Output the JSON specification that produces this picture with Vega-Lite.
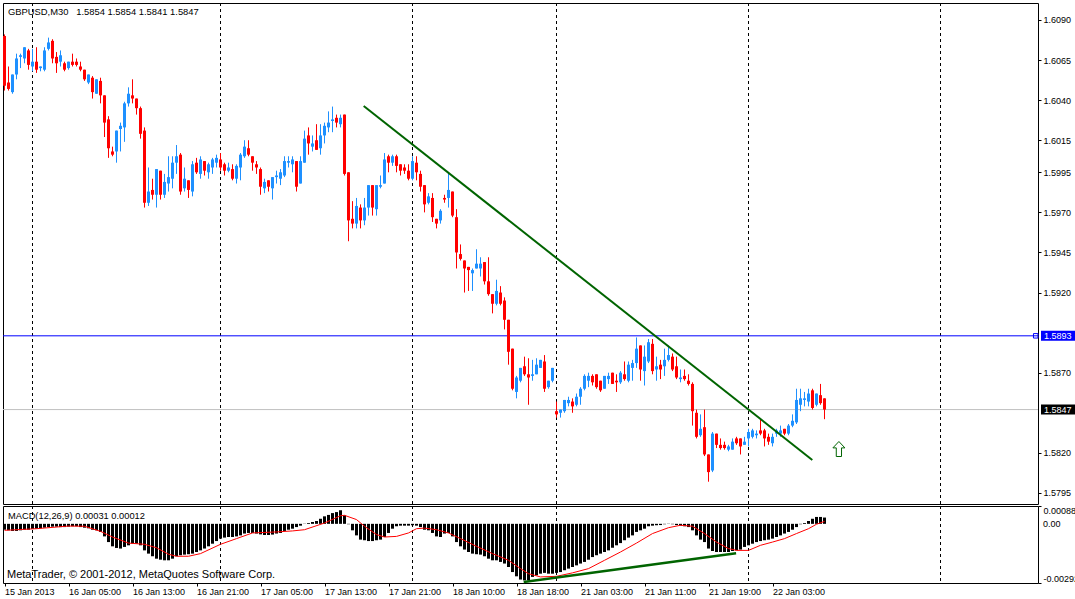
{
"$schema":"https://vega.github.io/schema/vega-lite/v6.json",
"background":"white",
"padding":{"left":2,"top":2,"right":0,"bottom":0},
"spacing":2,
"bounds":"flush",
"config":{"view":{"stroke":"#000000","strokeWidth":1},"scale":{"continuousPadding":0},"axis":{"labelFont":"Liberation Sans","labelFontSize":9,"labelColor":"#000000","tickColor":"#000000","tickSize":3,"domain":false,"grid":false,"labelOverlap":false}},
"datasets":{
"c":[
{"i":0,"o":1.6080,"h":1.6081,"l":1.6046,"c":1.6049,"m":-0.00029},
{"i":1,"o":1.6051,"h":1.6061,"l":1.6046,"c":1.6047,"m":-0.00032},
{"i":2,"o":1.6045,"h":1.6056,"l":1.6044,"c":1.6056,"m":-0.00035},
{"i":3,"o":1.6056,"h":1.6069,"l":1.6053,"c":1.6066,"m":-0.00035},
{"i":4,"o":1.6067,"h":1.6069,"l":1.6060,"c":1.6068,"m":-0.00032},
{"i":5,"o":1.6066,"h":1.6073,"l":1.6063,"c":1.6073,"m":-0.00029},
{"i":6,"o":1.6071,"h":1.6072,"l":1.6059,"c":1.6062,"m":-0.00029},
{"i":7,"o":1.6061,"h":1.6072,"l":1.6058,"c":1.6064,"m":-0.00025},
{"i":8,"o":1.6064,"h":1.6073,"l":1.6057,"c":1.6059,"m":-0.00024},
{"i":9,"o":1.6060,"h":1.6061,"l":1.6058,"c":1.6061,"m":-0.00022},
{"i":10,"o":1.6059,"h":1.6073,"l":1.6058,"c":1.6071,"m":-0.00019},
{"i":11,"o":1.6072,"h":1.6079,"l":1.6071,"c":1.6076,"m":-0.00016},
{"i":12,"o":1.6077,"h":1.6078,"l":1.6063,"c":1.6066,"m":-0.00014},
{"i":13,"o":1.6067,"h":1.6070,"l":1.6057,"c":1.6063,"m":-0.00014},
{"i":14,"o":1.6064,"h":1.6071,"l":1.6061,"c":1.6068,"m":-0.00016},
{"i":15,"o":1.6063,"h":1.6064,"l":1.6058,"c":1.6059,"m":-0.00016},
{"i":16,"o":1.6060,"h":1.6064,"l":1.6059,"c":1.6064,"m":-0.00014},
{"i":17,"o":1.6064,"h":1.6069,"l":1.6061,"c":1.6062,"m":-0.00012},
{"i":18,"o":1.6064,"h":1.6066,"l":1.6061,"c":1.6062,"m":-0.00012},
{"i":19,"o":1.6061,"h":1.6064,"l":1.6058,"c":1.6059,"m":-0.00016},
{"i":20,"o":1.6059,"h":1.6059,"l":1.6052,"c":1.6053,"m":-0.00019},
{"i":21,"o":1.6051,"h":1.6056,"l":1.6050,"c":1.6056,"m":-0.00022},
{"i":22,"o":1.6054,"h":1.6055,"l":1.6041,"c":1.6045,"m":-0.00029},
{"i":23,"o":1.6044,"h":1.6053,"l":1.6044,"c":1.6053,"m":-0.00032},
{"i":24,"o":1.6052,"h":1.6054,"l":1.6038,"c":1.6043,"m":-0.00040},
{"i":25,"o":1.6043,"h":1.6043,"l":1.6017,"c":1.6026,"m":-0.00062},
{"i":26,"o":1.6028,"h":1.6030,"l":1.6004,"c":1.6010,"m":-0.00090},
{"i":27,"o":1.6008,"h":1.6011,"l":1.6005,"c":1.6006,"m":-0.00111},
{"i":28,"o":1.6008,"h":1.6021,"l":1.6001,"c":1.6021,"m":-0.00119},
{"i":29,"o":1.6022,"h":1.6026,"l":1.6008,"c":1.6024,"m":-0.00122},
{"i":30,"o":1.6023,"h":1.6039,"l":1.6014,"c":1.6038,"m":-0.00114},
{"i":31,"o":1.6038,"h":1.6048,"l":1.6036,"c":1.6044,"m":-0.00106},
{"i":32,"o":1.6043,"h":1.6053,"l":1.6038,"c":1.6041,"m":-0.00098},
{"i":33,"o":1.6041,"h":1.6041,"l":1.6031,"c":1.6035,"m":-0.00098},
{"i":34,"o":1.6035,"h":1.6036,"l":1.6016,"c":1.6019,"m":-0.00106},
{"i":35,"o":1.6021,"h":1.6023,"l":1.5973,"c":1.5976,"m":-0.00131},
{"i":36,"o":1.5976,"h":1.5998,"l":1.5974,"c":1.5983,"m":-0.00147},
{"i":37,"o":1.5984,"h":1.5991,"l":1.5978,"c":1.5981,"m":-0.00160},
{"i":38,"o":1.5981,"h":1.5997,"l":1.5973,"c":1.5997,"m":-0.00172},
{"i":39,"o":1.5996,"h":1.5996,"l":1.5978,"c":1.5981,"m":-0.00177},
{"i":40,"o":1.5981,"h":1.5994,"l":1.5979,"c":1.5989,"m":-0.00180},
{"i":41,"o":1.5988,"h":1.6005,"l":1.5983,"c":1.5992,"m":-0.00180},
{"i":42,"o":1.5991,"h":1.6005,"l":1.5985,"c":1.6001,"m":-0.00172},
{"i":43,"o":1.6001,"h":1.6012,"l":1.5994,"c":1.6005,"m":-0.00160},
{"i":44,"o":1.6006,"h":1.6007,"l":1.5981,"c":1.5983,"m":-0.00155},
{"i":45,"o":1.5985,"h":1.5998,"l":1.5983,"c":1.5991,"m":-0.00152},
{"i":46,"o":1.5990,"h":1.5990,"l":1.5979,"c":1.5984,"m":-0.00150},
{"i":47,"o":1.5983,"h":1.6002,"l":1.5980,"c":1.6000,"m":-0.00147},
{"i":48,"o":1.6001,"h":1.6004,"l":1.5994,"c":1.5995,"m":-0.00139},
{"i":49,"o":1.5994,"h":1.6005,"l":1.5991,"c":1.6003,"m":-0.00131},
{"i":50,"o":1.6002,"h":1.6002,"l":1.5993,"c":1.5996,"m":-0.00122},
{"i":51,"o":1.5995,"h":1.6001,"l":1.5991,"c":1.6000,"m":-0.00111},
{"i":52,"o":1.5998,"h":1.6004,"l":1.5994,"c":1.6003,"m":-0.00098},
{"i":53,"o":1.6001,"h":1.6006,"l":1.5998,"c":1.6004,"m":-0.00085},
{"i":54,"o":1.6003,"h":1.6007,"l":1.5996,"c":1.5998,"m":-0.00073},
{"i":55,"o":1.6000,"h":1.6001,"l":1.5993,"c":1.5996,"m":-0.00068},
{"i":56,"o":1.5996,"h":1.6001,"l":1.5995,"c":1.5998,"m":-0.00065},
{"i":57,"o":1.5997,"h":1.6000,"l":1.5990,"c":1.5991,"m":-0.00065},
{"i":58,"o":1.5991,"h":1.6000,"l":1.5988,"c":1.5999,"m":-0.00062},
{"i":59,"o":1.5998,"h":1.6007,"l":1.5990,"c":1.6006,"m":-0.00057},
{"i":60,"o":1.6005,"h":1.6015,"l":1.6004,"c":1.6011,"m":-0.00048},
{"i":61,"o":1.6010,"h":1.6015,"l":1.6005,"c":1.6006,"m":-0.00045},
{"i":62,"o":1.6005,"h":1.6005,"l":1.5996,"c":1.6001,"m":-0.00045},
{"i":63,"o":1.6000,"h":1.6002,"l":1.5994,"c":1.5998,"m":-0.00048},
{"i":64,"o":1.5997,"h":1.5998,"l":1.5981,"c":1.5986,"m":-0.00052},
{"i":65,"o":1.5985,"h":1.5991,"l":1.5982,"c":1.5989,"m":-0.00055},
{"i":66,"o":1.5990,"h":1.5990,"l":1.5983,"c":1.5986,"m":-0.00055},
{"i":67,"o":1.5985,"h":1.5992,"l":1.5978,"c":1.5992,"m":-0.00053},
{"i":68,"o":1.5992,"h":1.5996,"l":1.5988,"c":1.5993,"m":-0.00048},
{"i":69,"o":1.5991,"h":1.5997,"l":1.5987,"c":1.5995,"m":-0.00045},
{"i":70,"o":1.5993,"h":1.6005,"l":1.5992,"c":1.6002,"m":-0.00035},
{"i":71,"o":1.6001,"h":1.6005,"l":1.5998,"c":1.6002,"m":-0.00029},
{"i":72,"o":1.6000,"h":1.6005,"l":1.5995,"c":1.6003,"m":-0.00024},
{"i":73,"o":1.6002,"h":1.6002,"l":1.5983,"c":1.5986,"m":-0.00016},
{"i":74,"o":1.5988,"h":1.6005,"l":1.5988,"c":1.6002,"m":-0.00009},
{"i":75,"o":1.6001,"h":1.6021,"l":1.6001,"c":1.6016,"m":0.00001},
{"i":76,"o":1.6018,"h":1.6023,"l":1.6006,"c":1.6013,"m":0.00004},
{"i":77,"o":1.6011,"h":1.6018,"l":1.6008,"c":1.6013,"m":0.00009},
{"i":78,"o":1.6015,"h":1.6025,"l":1.6009,"c":1.6009,"m":0.00014},
{"i":79,"o":1.6010,"h":1.6025,"l":1.6006,"c":1.6018,"m":0.00025},
{"i":80,"o":1.6018,"h":1.6026,"l":1.6013,"c":1.6024,"m":0.00037},
{"i":81,"o":1.6023,"h":1.6033,"l":1.6020,"c":1.6026,"m":0.00044},
{"i":82,"o":1.6027,"h":1.6036,"l":1.6020,"c":1.6028,"m":0.00053},
{"i":83,"o":1.6029,"h":1.6031,"l":1.6023,"c":1.6026,"m":0.00058},
{"i":84,"o":1.6025,"h":1.6031,"l":1.6023,"c":1.6029,"m":0.00067},
{"i":85,"o":1.6031,"h":1.6031,"l":1.5993,"c":1.5994,"m":0.00042},
{"i":86,"o":1.5995,"h":1.5995,"l":1.5952,"c":1.5965,"m":-0.00002},
{"i":87,"o":1.5966,"h":1.5977,"l":1.5960,"c":1.5963,"m":-0.00032},
{"i":88,"o":1.5963,"h":1.5979,"l":1.5960,"c":1.5974,"m":-0.00057},
{"i":89,"o":1.5973,"h":1.5975,"l":1.5960,"c":1.5965,"m":-0.00078},
{"i":90,"o":1.5965,"h":1.5979,"l":1.5962,"c":1.5973,"m":-0.00081},
{"i":91,"o":1.5973,"h":1.5987,"l":1.5968,"c":1.5987,"m":-0.00085},
{"i":92,"o":1.5987,"h":1.5987,"l":1.5968,"c":1.5973,"m":-0.00085},
{"i":93,"o":1.5972,"h":1.5987,"l":1.5968,"c":1.5987,"m":-0.00081},
{"i":94,"o":1.5986,"h":1.5993,"l":1.5985,"c":1.5987,"m":-0.00078},
{"i":95,"o":1.5988,"h":1.6007,"l":1.5988,"c":1.6003,"m":-0.00065},
{"i":96,"o":1.6005,"h":1.6006,"l":1.5995,"c":1.6001,"m":-0.00045},
{"i":97,"o":1.6001,"h":1.6006,"l":1.5999,"c":1.6005,"m":-0.00024},
{"i":98,"o":1.6005,"h":1.6006,"l":1.5995,"c":1.5999,"m":-0.00012},
{"i":99,"o":1.6000,"h":1.6000,"l":1.5993,"c":1.5996,"m":-0.00009},
{"i":100,"o":1.5998,"h":1.6000,"l":1.5994,"c":1.5996,"m":-0.00009},
{"i":101,"o":1.5996,"h":1.6000,"l":1.5990,"c":1.5991,"m":-0.00009},
{"i":102,"o":1.5991,"h":1.6005,"l":1.5990,"c":1.6002,"m":-0.00007},
{"i":103,"o":1.6001,"h":1.6005,"l":1.5990,"c":1.5995,"m":-0.00009},
{"i":104,"o":1.5994,"h":1.5996,"l":1.5983,"c":1.5986,"m":-0.00016},
{"i":105,"o":1.5987,"h":1.5987,"l":1.5970,"c":1.5975,"m":-0.00029},
{"i":106,"o":1.5976,"h":1.5982,"l":1.5975,"c":1.5980,"m":-0.00032},
{"i":107,"o":1.5979,"h":1.5982,"l":1.5964,"c":1.5967,"m":-0.00045},
{"i":108,"o":1.5966,"h":1.5966,"l":1.5960,"c":1.5963,"m":-0.00062},
{"i":109,"o":1.5965,"h":1.5972,"l":1.5963,"c":1.5971,"m":-0.00065},
{"i":110,"o":1.5979,"h":1.5981,"l":1.5976,"c":1.5978,"m":-0.00048},
{"i":111,"o":1.5979,"h":1.5995,"l":1.5973,"c":1.5984,"m":-0.00045},
{"i":112,"o":1.5983,"h":1.5983,"l":1.5967,"c":1.5968,"m":-0.00062},
{"i":113,"o":1.5967,"h":1.5972,"l":1.5935,"c":1.5945,"m":-0.00090},
{"i":114,"o":1.5944,"h":1.5950,"l":1.5940,"c":1.5941,"m":-0.00111},
{"i":115,"o":1.5940,"h":1.5940,"l":1.5920,"c":1.5935,"m":-0.00127},
{"i":116,"o":1.5936,"h":1.5936,"l":1.5921,"c":1.5934,"m":-0.00139},
{"i":117,"o":1.5932,"h":1.5935,"l":1.5921,"c":1.5934,"m":-0.00147},
{"i":118,"o":1.5935,"h":1.5947,"l":1.5935,"c":1.5938,"m":-0.00150},
{"i":119,"o":1.5935,"h":1.5942,"l":1.5930,"c":1.5938,"m":-0.00152},
{"i":120,"o":1.5939,"h":1.5939,"l":1.5925,"c":1.5927,"m":-0.00160},
{"i":121,"o":1.5927,"h":1.5942,"l":1.5918,"c":1.5919,"m":-0.00172},
{"i":122,"o":1.5919,"h":1.5919,"l":1.5907,"c":1.5913,"m":-0.00180},
{"i":123,"o":1.5913,"h":1.5928,"l":1.5912,"c":1.5921,"m":-0.00180},
{"i":124,"o":1.5920,"h":1.5924,"l":1.5912,"c":1.5913,"m":-0.00188},
{"i":125,"o":1.5915,"h":1.5917,"l":1.5897,"c":1.5903,"m":-0.00196},
{"i":126,"o":1.5903,"h":1.5903,"l":1.5875,"c":1.5883,"m":-0.00213},
{"i":127,"o":1.5885,"h":1.5885,"l":1.5859,"c":1.5860,"m":-0.00238},
{"i":128,"o":1.5858,"h":1.5868,"l":1.5854,"c":1.5867,"m":-0.00259},
{"i":129,"o":1.5865,"h":1.5873,"l":1.5864,"c":1.5873,"m":-0.00275},
{"i":130,"o":1.5874,"h":1.5880,"l":1.5868,"c":1.5869,"m":-0.00279},
{"i":131,"o":1.5869,"h":1.5879,"l":1.5850,"c":1.5867,"m":-0.00279},
{"i":132,"o":1.5868,"h":1.5878,"l":1.5865,"c":1.5869,"m":-0.00262},
{"i":133,"o":1.5869,"h":1.5879,"l":1.5869,"c":1.5875,"m":-0.00254},
{"i":134,"o":1.5873,"h":1.5878,"l":1.5873,"c":1.5878,"m":-0.00246},
{"i":135,"o":1.5877,"h":1.5881,"l":1.5858,"c":1.5860,"m":-0.00242},
{"i":136,"o":1.5861,"h":1.5865,"l":1.5860,"c":1.5865,"m":-0.00246},
{"i":137,"o":1.5865,"h":1.5873,"l":1.5864,"c":1.5873,"m":-0.00246},
{"i":138,"o":1.5846,"h":1.5852,"l":1.5842,"c":1.5844,"m":-0.00242},
{"i":139,"o":1.5845,"h":1.5847,"l":1.5842,"c":1.5847,"m":-0.00238},
{"i":140,"o":1.5846,"h":1.5853,"l":1.5845,"c":1.5853,"m":-0.00229},
{"i":141,"o":1.5851,"h":1.5855,"l":1.5849,"c":1.5853,"m":-0.00221},
{"i":142,"o":1.5852,"h":1.5854,"l":1.5845,"c":1.5849,"m":-0.00213},
{"i":143,"o":1.5850,"h":1.5857,"l":1.5849,"c":1.5855,"m":-0.00205},
{"i":144,"o":1.5855,"h":1.5861,"l":1.5850,"c":1.5860,"m":-0.00196},
{"i":145,"o":1.5860,"h":1.5869,"l":1.5859,"c":1.5868,"m":-0.00188},
{"i":146,"o":1.5865,"h":1.5870,"l":1.5861,"c":1.5868,"m":-0.00177},
{"i":147,"o":1.5868,"h":1.5869,"l":1.5862,"c":1.5864,"m":-0.00164},
{"i":148,"o":1.5869,"h":1.5869,"l":1.5860,"c":1.5861,"m":-0.00155},
{"i":149,"o":1.5865,"h":1.5865,"l":1.5858,"c":1.5859,"m":-0.00147},
{"i":150,"o":1.5860,"h":1.5868,"l":1.5860,"c":1.5868,"m":-0.00139},
{"i":151,"o":1.5866,"h":1.5870,"l":1.5863,"c":1.5868,"m":-0.00131},
{"i":152,"o":1.5870,"h":1.5870,"l":1.5863,"c":1.5863,"m":-0.00118},
{"i":153,"o":1.5865,"h":1.5869,"l":1.5858,"c":1.5864,"m":-0.00106},
{"i":154,"o":1.5864,"h":1.5871,"l":1.5863,"c":1.5870,"m":-0.00095},
{"i":155,"o":1.5869,"h":1.5877,"l":1.5865,"c":1.5866,"m":-0.00081},
{"i":156,"o":1.5865,"h":1.5877,"l":1.5864,"c":1.5875,"m":-0.00068},
{"i":157,"o":1.5873,"h":1.5878,"l":1.5865,"c":1.5876,"m":-0.00057},
{"i":158,"o":1.5876,"h":1.5892,"l":1.5873,"c":1.5885,"m":-0.00040},
{"i":159,"o":1.5887,"h":1.5887,"l":1.5865,"c":1.5872,"m":-0.00032},
{"i":160,"o":1.5871,"h":1.5887,"l":1.5862,"c":1.5880,"m":-0.00024},
{"i":161,"o":1.5877,"h":1.5891,"l":1.5876,"c":1.5889,"m":-0.00012},
{"i":162,"o":1.5888,"h":1.5891,"l":1.5869,"c":1.5871,"m":-0.00009},
{"i":163,"o":1.5872,"h":1.5880,"l":1.5865,"c":1.5874,"m":-0.00007},
{"i":164,"o":1.5875,"h":1.5878,"l":1.5866,"c":1.5872,"m":-0.00006},
{"i":165,"o":1.5874,"h":1.5885,"l":1.5868,"c":1.5878,"m":-0.00002},
{"i":166,"o":1.5878,"h":1.5887,"l":1.5877,"c":1.5881,"m":0.00001},
{"i":167,"o":1.5880,"h":1.5882,"l":1.5871,"c":1.5872,"m":-0.00002},
{"i":168,"o":1.5874,"h":1.5880,"l":1.5866,"c":1.5867,"m":-0.00006},
{"i":169,"o":1.5866,"h":1.5872,"l":1.5864,"c":1.5867,"m":-0.00009},
{"i":170,"o":1.5868,"h":1.5872,"l":1.5865,"c":1.5866,"m":-0.00012},
{"i":171,"o":1.5865,"h":1.5869,"l":1.5862,"c":1.5863,"m":-0.00016},
{"i":172,"o":1.5863,"h":1.5864,"l":1.5837,"c":1.5846,"m":-0.00032},
{"i":173,"o":1.5845,"h":1.5847,"l":1.5829,"c":1.5830,"m":-0.00057},
{"i":174,"o":1.5831,"h":1.5844,"l":1.5830,"c":1.5835,"m":-0.00078},
{"i":175,"o":1.5836,"h":1.5847,"l":1.5818,"c":1.5819,"m":-0.00090},
{"i":176,"o":1.5819,"h":1.5819,"l":1.5802,"c":1.5808,"m":-0.00122},
{"i":177,"o":1.5809,"h":1.5833,"l":1.5808,"c":1.5832,"m":-0.00134},
{"i":178,"o":1.5832,"h":1.5832,"l":1.5823,"c":1.5825,"m":-0.00139},
{"i":179,"o":1.5825,"h":1.5829,"l":1.5822,"c":1.5823,"m":-0.00139},
{"i":180,"o":1.5825,"h":1.5827,"l":1.5822,"c":1.5823,"m":-0.00139},
{"i":181,"o":1.5822,"h":1.5825,"l":1.5821,"c":1.5824,"m":-0.00139},
{"i":182,"o":1.5822,"h":1.5829,"l":1.5822,"c":1.5827,"m":-0.00134},
{"i":183,"o":1.5829,"h":1.5830,"l":1.5825,"c":1.5826,"m":-0.00131},
{"i":184,"o":1.5829,"h":1.5829,"l":1.5819,"c":1.5824,"m":-0.00127},
{"i":185,"o":1.5825,"h":1.5830,"l":1.5825,"c":1.5827,"m":-0.00114},
{"i":186,"o":1.5829,"h":1.5835,"l":1.5824,"c":1.5833,"m":-0.00106},
{"i":187,"o":1.5830,"h":1.5835,"l":1.5829,"c":1.5834,"m":-0.00098},
{"i":188,"o":1.5831,"h":1.5834,"l":1.5829,"c":1.5832,"m":-0.00090},
{"i":189,"o":1.5834,"h":1.5841,"l":1.5831,"c":1.5832,"m":-0.00085},
{"i":190,"o":1.5834,"h":1.5835,"l":1.5824,"c":1.5829,"m":-0.00081},
{"i":191,"o":1.5830,"h":1.5832,"l":1.5825,"c":1.5827,"m":-0.00078},
{"i":192,"o":1.5826,"h":1.5832,"l":1.5824,"c":1.5830,"m":-0.00073},
{"i":193,"o":1.5832,"h":1.5835,"l":1.5830,"c":1.5834,"m":-0.00065},
{"i":194,"o":1.5832,"h":1.5837,"l":1.5830,"c":1.5834,"m":-0.00057},
{"i":195,"o":1.5835,"h":1.5835,"l":1.5831,"c":1.5832,"m":-0.00048},
{"i":196,"o":1.5832,"h":1.5838,"l":1.5831,"c":1.5837,"m":-0.00040},
{"i":197,"o":1.5837,"h":1.5844,"l":1.5836,"c":1.5840,"m":-0.00029},
{"i":198,"o":1.5839,"h":1.5860,"l":1.5838,"c":1.5853,"m":-0.00016},
{"i":199,"o":1.5850,"h":1.5860,"l":1.5846,"c":1.5854,"m":-0.00002},
{"i":200,"o":1.5853,"h":1.5858,"l":1.5849,"c":1.5854,"m":0.00004},
{"i":201,"o":1.5852,"h":1.5860,"l":1.5849,"c":1.5857,"m":0.00014},
{"i":202,"o":1.5859,"h":1.5860,"l":1.5847,"c":1.5848,"m":0.00025},
{"i":203,"o":1.5850,"h":1.5857,"l":1.5849,"c":1.5857,"m":0.00034},
{"i":204,"o":1.5856,"h":1.5863,"l":1.5850,"c":1.5851,"m":0.00034},
{"i":205,"o":1.5854,"h":1.5854,"l":1.5841,"c":1.5847,"m":0.00031}
],
"sig":[
{"i":0,"s":-0.00032},{"i":8,"s":-0.00024},{"i":16,"s":-0.00011},{"i":20,"s":-0.00012},{"i":24,"s":-0.00037},{"i":27,"s":-0.00065},{"i":31,"s":-0.00095},{"i":35,"s":-0.00101},{"i":38,"s":-0.00118},{"i":41,"s":-0.00150},{"i":43,"s":-0.00160},{"i":46,"s":-0.00160},{"i":49,"s":-0.00147},{"i":54,"s":-0.00101},{"i":58,"s":-0.00073},{"i":62,"s":-0.00045},{"i":68,"s":-0.00040},{"i":72,"s":-0.00035},{"i":75,"s":-0.00029},{"i":80,"s":0.00004},{"i":84,"s":0.00040},{"i":85,"s":0.00042},{"i":88,"s":0.00021},{"i":90,"s":-0.00012},{"i":93,"s":-0.00053},{"i":95,"s":-0.00065},{"i":98,"s":-0.00062},{"i":101,"s":-0.00045},{"i":103,"s":-0.00024},{"i":105,"s":-0.00021},{"i":108,"s":-0.00029},{"i":111,"s":-0.00045},{"i":114,"s":-0.00073},{"i":118,"s":-0.00111},{"i":122,"s":-0.00147},{"i":126,"s":-0.00180},{"i":129,"s":-0.00221},{"i":131,"s":-0.00246},{"i":134,"s":-0.00262},{"i":138,"s":-0.00259},{"i":142,"s":-0.00242},{"i":146,"s":-0.00221},{"i":150,"s":-0.00180},{"i":154,"s":-0.00139},{"i":158,"s":-0.00095},{"i":162,"s":-0.00048},{"i":166,"s":-0.00019},{"i":169,"s":-0.00007},{"i":172,"s":-0.00012},{"i":175,"s":-0.00048},{"i":178,"s":-0.00090},{"i":181,"s":-0.00122},{"i":183,"s":-0.00131},{"i":186,"s":-0.00131},{"i":189,"s":-0.00106},{"i":192,"s":-0.00090},{"i":195,"s":-0.00073},{"i":198,"s":-0.00048},{"i":201,"s":-0.00024},{"i":203,"s":-0.00002},{"i":205,"s":0.00012}
],
"sep":[{"i":7},{"i":54},{"i":102},{"i":138},{"i":186},{"i":234}],
"trend":[{"i":89.8,"p":1.60364},{"i":201.95,"p":1.58156}],
"mtrend":[{"i":129.8,"v":-0.00287},{"i":182.9,"v":-0.00145}]
},
"vconcat":[
{
"width":1035,"height":501,
"layer":[
{"data":{"name":"sep"},"mark":{"type":"rule","color":"#000000","strokeWidth":1,"strokeDash":[3,3]},
 "encoding":{"x":{"field":"i","type":"quantitative","scale":{"domain":[-0.375,258.375],"nice":false,"zero":false,"padding":0},"axis":null}}},
{"data":{"values":[{"p":1.5893}]},"mark":{"type":"rule","color":"#0000ff","strokeWidth":1},
 "encoding":{"y":{"field":"p","type":"quantitative","scale":{"domain":[1.57881,1.61006],"nice":false,"zero":false,"padding":0},
  "axis":{"orient":"right","title":null,"values":[1.6090,1.6065,1.6040,1.6015,1.5995,1.5970,1.5945,1.5920,1.5870,1.5820,1.5795],"format":".4f","labelPadding":2}}}},
{"data":{"values":[{"p":1.5847}]},"mark":{"type":"rule","color":"#c0c0c0","strokeWidth":1},
 "encoding":{"y":{"field":"p","type":"quantitative","scale":{"domain":[1.57881,1.61006],"nice":false,"zero":false,"padding":0}}}},
{"data":{"name":"c"},"mark":{"type":"rule","strokeWidth":1},
 "encoding":{"x":{"field":"i","type":"quantitative","scale":{"domain":[-0.375,258.375],"nice":false,"zero":false,"padding":0},"axis":null},
  "y":{"field":"l","type":"quantitative","scale":{"domain":[1.57881,1.61006],"nice":false,"zero":false,"padding":0}},
  "y2":{"field":"h"},
  "color":{"condition":{"test":"datum.c < datum.o","value":"#ff0000"},"value":"#1e90ff"}}},
{"data":{"name":"c"},"mark":{"type":"bar","size":3,"orient":"vertical"},
 "encoding":{"x":{"field":"i","type":"quantitative","scale":{"domain":[-0.375,258.375],"nice":false,"zero":false,"padding":0},"axis":null},
  "y":{"field":"o","type":"quantitative","scale":{"domain":[1.57881,1.61006],"nice":false,"zero":false,"padding":0}},
  "y2":{"field":"c"},
  "color":{"condition":{"test":"datum.c < datum.o","value":"#ff0000"},"value":"#1e90ff"}}},
{"data":{"name":"trend"},"mark":{"type":"line","color":"#006400","strokeWidth":2},
 "encoding":{"x":{"field":"i","type":"quantitative","scale":{"domain":[-0.375,258.375],"nice":false,"zero":false,"padding":0},"axis":null},
  "y":{"field":"p","type":"quantitative","scale":{"domain":[1.57881,1.61006],"nice":false,"zero":false,"padding":0}}}},
{"data":{"values":[{"i":208.6,"p":1.58224}]},"mark":{"type":"point","shape":"M0,-1 L0.8,-0.15 L0.35,-0.15 L0.35,1 L-0.35,1 L-0.35,-0.15 L-0.8,-0.15 Z","size":225,"filled":true,"fill":"#ffffff","stroke":"#006400","strokeWidth":1,"opacity":1},
 "encoding":{"x":{"field":"i","type":"quantitative","scale":{"domain":[-0.375,258.375],"nice":false,"zero":false,"padding":0},"axis":null},
  "y":{"field":"p","type":"quantitative","scale":{"domain":[1.57881,1.61006],"nice":false,"zero":false,"padding":0}}}},
{"data":{"values":[{"i":257.8,"p":1.5893}]},"mark":{"type":"point","shape":"square","size":20,"filled":false,"stroke":"#0000ff","strokeWidth":1,"opacity":1},
 "encoding":{"x":{"field":"i","type":"quantitative","scale":{"domain":[-0.375,258.375],"nice":false,"zero":false,"padding":0},"axis":null},
  "y":{"field":"p","type":"quantitative","scale":{"domain":[1.57881,1.61006],"nice":false,"zero":false,"padding":0}}}},
{"data":{"values":[{"i":263.5,"p":1.5893,"k":"obj"},{"i":263.5,"p":1.5847,"k":"bid"}]},"mark":{"type":"point","shape":"M-1,-0.2857 L1,-0.2857 L1,0.2857 L-1,0.2857 Z","size":1225,"filled":true,"strokeWidth":0,"opacity":1},
 "encoding":{"x":{"field":"i","type":"quantitative","scale":{"domain":[-0.375,258.375],"nice":false,"zero":false,"padding":0},"axis":null},
  "y":{"field":"p","type":"quantitative","scale":{"domain":[1.57881,1.61006],"nice":false,"zero":false,"padding":0}},
  "color":{"field":"k","type":"nominal","scale":{"domain":["obj","bid"],"range":["#0000ff","#000000"]},"legend":null}}},
{"data":{"values":[{"i":259.875,"p":1.5893,"t":"1.5893"},{"i":259.875,"p":1.5847,"t":"1.5847"}]},"mark":{"type":"text","align":"left","baseline":"middle","font":"Liberation Sans","fontSize":9,"color":"#ffffff"},
 "encoding":{"x":{"field":"i","type":"quantitative","scale":{"domain":[-0.375,258.375],"nice":false,"zero":false,"padding":0},"axis":null},
  "y":{"field":"p","type":"quantitative","scale":{"domain":[1.57881,1.61006],"nice":false,"zero":false,"padding":0}},
  "text":{"field":"t"}}},
{"data":{"values":[{"i":0.875,"p":1.6095,"t":"GBPUSD,M30\u00a0\u00a0 1.5854 1.5854 1.5841 1.5847"}]},"mark":{"type":"text","align":"left","baseline":"middle","font":"Liberation Sans","fontSize":9.4,"color":"#000000"},
 "encoding":{"x":{"field":"i","type":"quantitative","scale":{"domain":[-0.375,258.375],"nice":false,"zero":false,"padding":0},"axis":null},
  "y":{"field":"p","type":"quantitative","scale":{"domain":[1.57881,1.61006],"nice":false,"zero":false,"padding":0}},
  "text":{"field":"t"}}}
]
},
{
"width":1035,"height":77,
"layer":[
{"data":{"name":"sep"},"mark":{"type":"rule","color":"#000000","strokeWidth":1,"strokeDash":[3,3]},
 "encoding":{"x":{"field":"i","type":"quantitative","scale":{"domain":[-0.375,258.375],"nice":false,"zero":false,"padding":0},
  "axis":{"orient":"bottom","title":null,"values":[0,16,32,48,64,80,96,112,128,144,160,176,192],
   "labelExpr":"['15 Jan 2013','16 Jan 05:00','16 Jan 13:00','16 Jan 21:00','17 Jan 05:00','17 Jan 13:00','17 Jan 21:00','18 Jan 10:00','18 Jan 18:00','21 Jan 03:00','21 Jan 11:00','21 Jan 19:00','22 Jan 03:00'][round(datum.value/16)]",
   "labelAlign":"left","labelBaseline":"top","labelPadding":1,"labelFlush":false}}}},
{"data":{"name":"c"},"mark":{"type":"bar","color":"#000000","size":3,"orient":"vertical"},
 "encoding":{"x":{"field":"i","type":"quantitative","scale":{"domain":[-0.375,258.375],"nice":false,"zero":false,"padding":0}},
  "y":{"field":"m","type":"quantitative","scale":{"domain":[-0.00292,0.00088],"nice":false,"zero":false,"padding":0},
   "axis":{"orient":"right","title":null,"values":[-0.00292,0,0.00088],"labelExpr":"datum.value > 0.0005 ? '0.00088' : (datum.value < -0.002 ? '-0.00292' : '')","labelFlush":true,"labelOverlap":false,"labelBound":false,"labelPadding":2}},
  "y2":{"datum":0}}},
{"data":{"name":"sig"},"mark":{"type":"line","color":"#ff0000","strokeWidth":1},
 "encoding":{"x":{"field":"i","type":"quantitative","scale":{"domain":[-0.375,258.375],"nice":false,"zero":false,"padding":0}},
  "y":{"field":"s","type":"quantitative","scale":{"domain":[-0.00292,0.00088],"nice":false,"zero":false,"padding":0}}}},
{"data":{"name":"mtrend"},"mark":{"type":"line","color":"#006400","strokeWidth":2.5},
 "encoding":{"x":{"field":"i","type":"quantitative","scale":{"domain":[-0.375,258.375],"nice":false,"zero":false,"padding":0}},
  "y":{"field":"v","type":"quantitative","scale":{"domain":[-0.00292,0.00088],"nice":false,"zero":false,"padding":0}}}},
{"data":{"values":[{"i":259.625,"v":0,"t":"0.00"}]},"mark":{"type":"text","align":"left","baseline":"middle","font":"Liberation Sans","fontSize":9,"color":"#000000"},
 "encoding":{"x":{"field":"i","type":"quantitative","scale":{"domain":[-0.375,258.375],"nice":false,"zero":false,"padding":0}},
  "y":{"field":"v","type":"quantitative","scale":{"domain":[-0.00292,0.00088],"nice":false,"zero":false,"padding":0}},
  "text":{"field":"t"}}},
{"data":{"values":[{"i":0.875,"v":0.00039,"t":"MACD(12,26,9) 0.00031 0.00012"}]},"mark":{"type":"text","align":"left","baseline":"middle","font":"Liberation Sans","fontSize":9.3,"color":"#000000"},
 "encoding":{"x":{"field":"i","type":"quantitative","scale":{"domain":[-0.375,258.375],"nice":false,"zero":false,"padding":0}},
  "y":{"field":"v","type":"quantitative","scale":{"domain":[-0.00292,0.00088],"nice":false,"zero":false,"padding":0}},
  "text":{"field":"t"}}},
{"data":{"values":[{"i":0.625,"v":-0.00253,"t":"MetaTrader, © 2001-2012, MetaQuotes Software Corp."}]},"mark":{"type":"text","align":"left","baseline":"middle","font":"Liberation Sans","fontSize":11,"color":"#000000"},
 "encoding":{"x":{"field":"i","type":"quantitative","scale":{"domain":[-0.375,258.375],"nice":false,"zero":false,"padding":0}},
  "y":{"field":"v","type":"quantitative","scale":{"domain":[-0.00292,0.00088],"nice":false,"zero":false,"padding":0}},
  "text":{"field":"t"}}}
]
}
]
}
